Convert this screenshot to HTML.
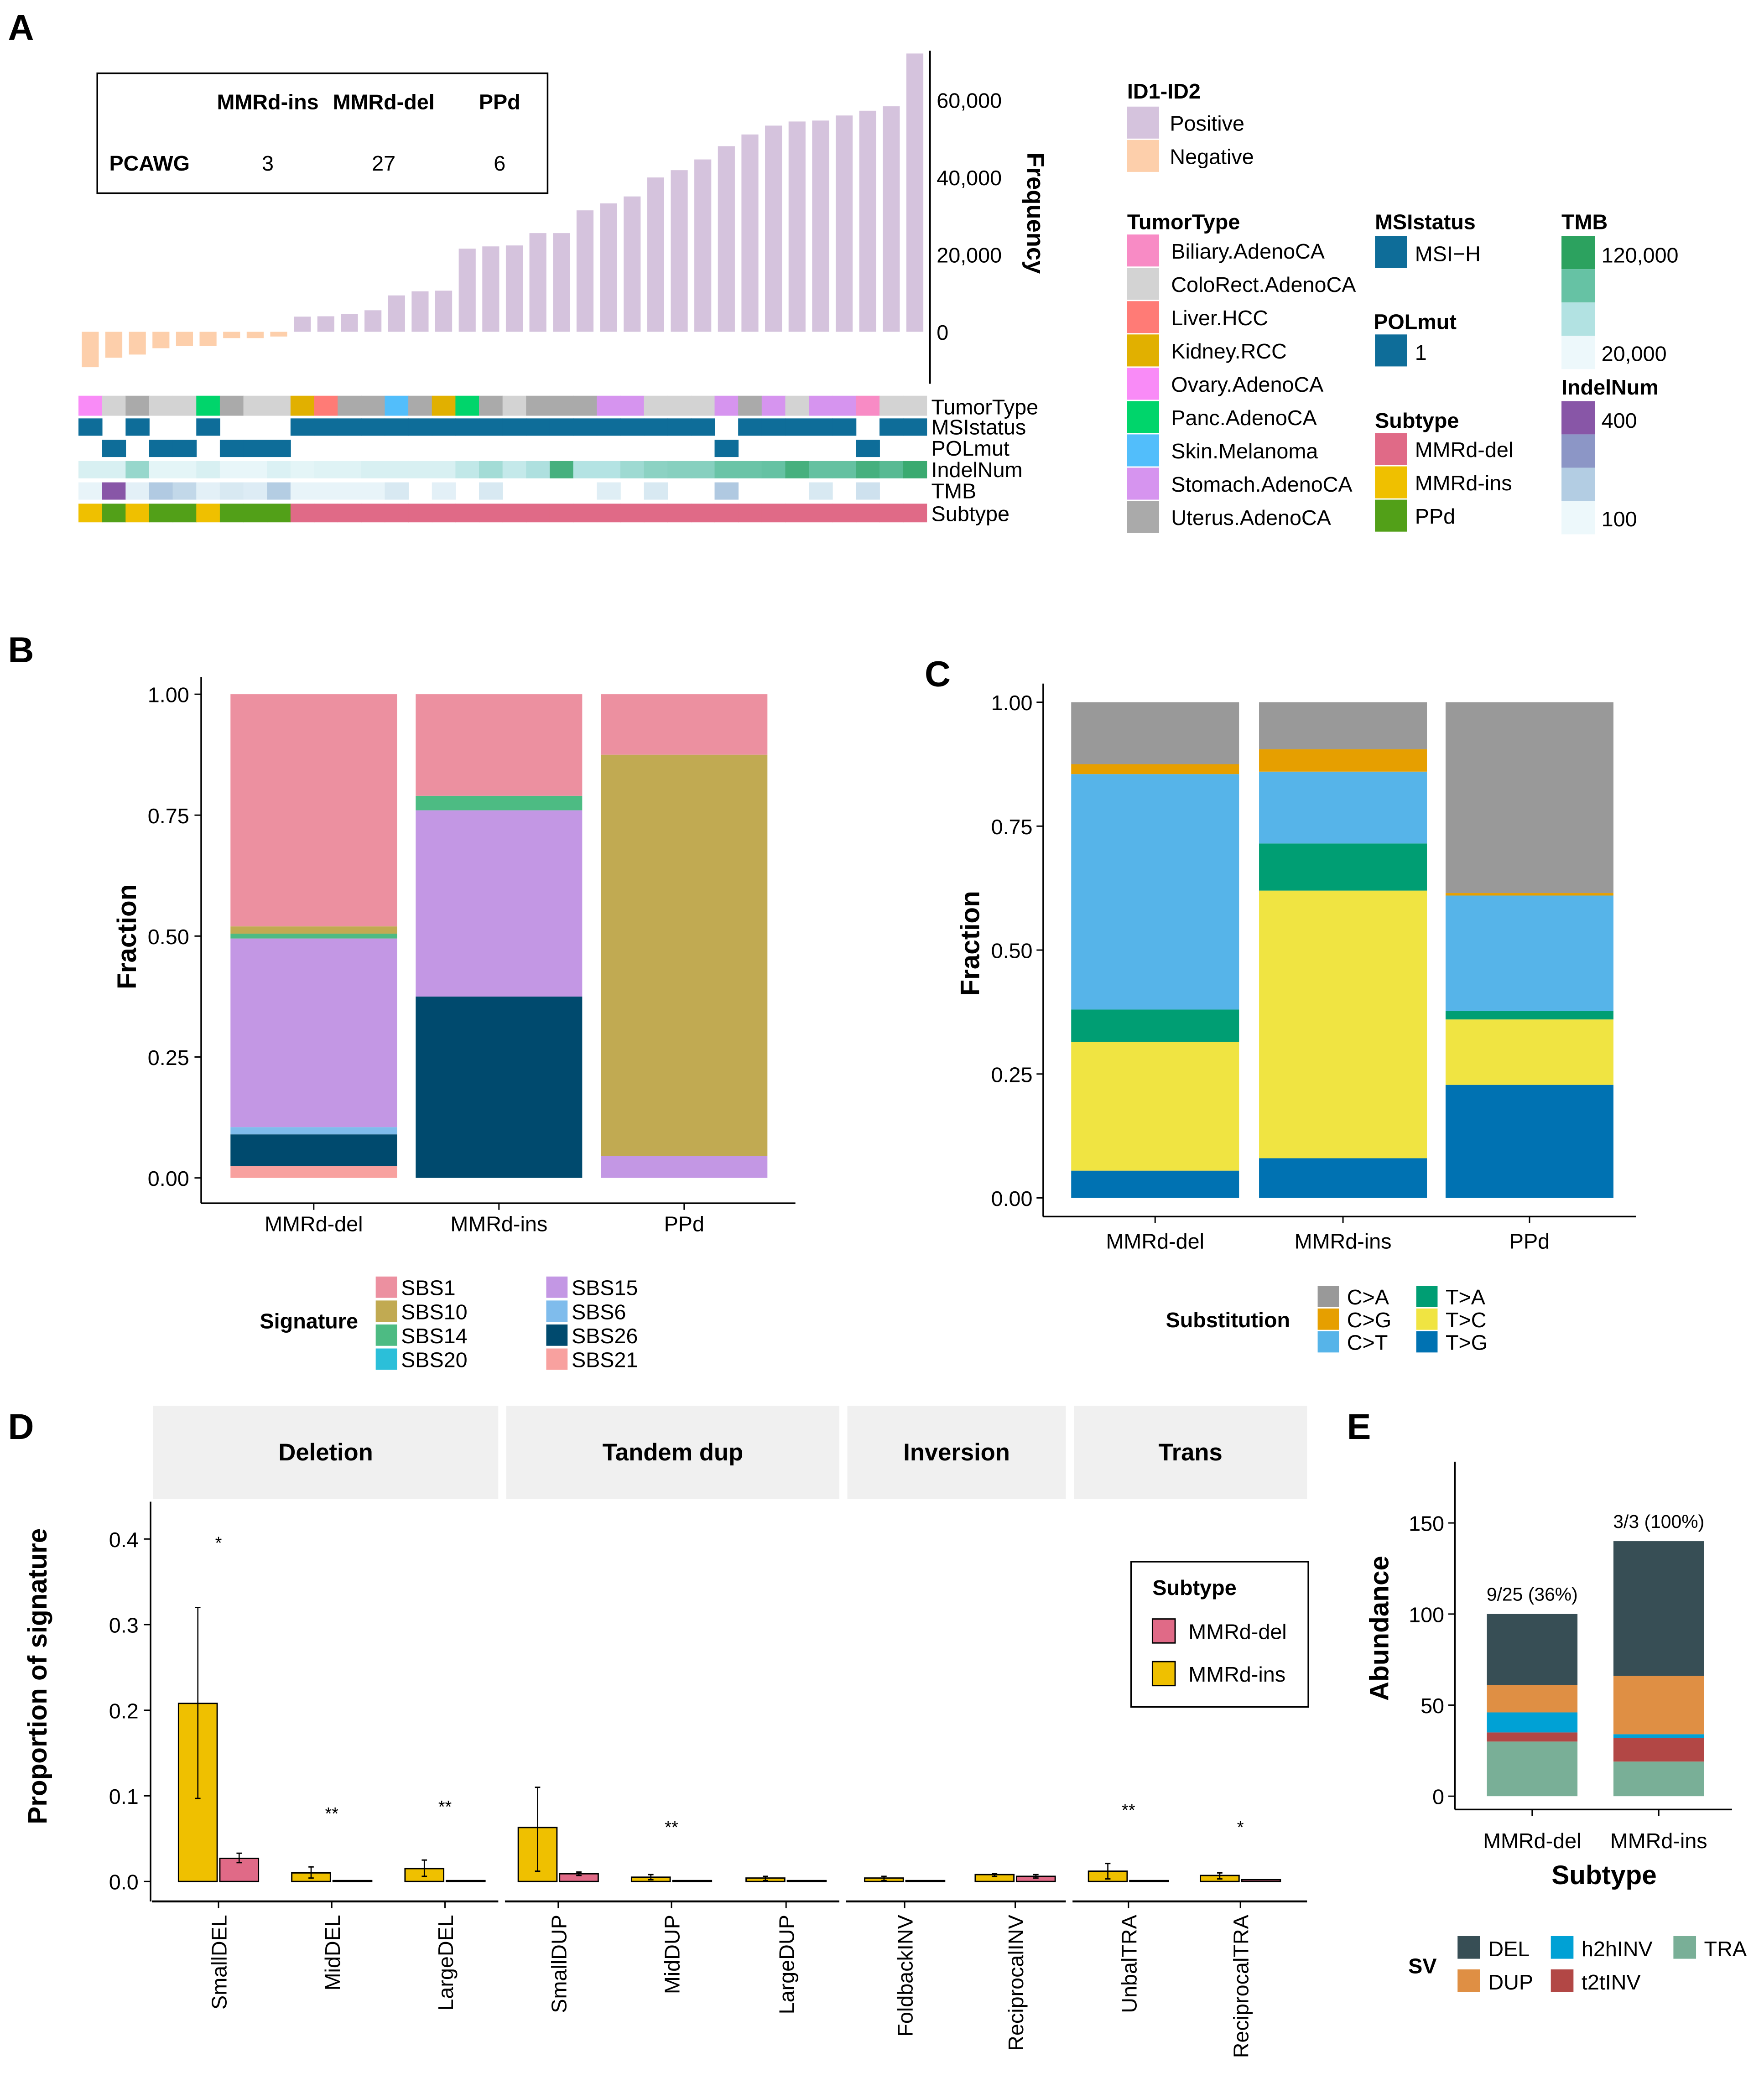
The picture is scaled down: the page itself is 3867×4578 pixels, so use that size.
<!DOCTYPE html>
<html><head><meta charset="utf-8"><style>
html,body{margin:0;padding:0;background:#fff;}
svg{display:block;font-family:"Liberation Sans",Arial,sans-serif;}
</style></head><body>
<svg id="fig" width="3867" height="4578" viewBox="0 0 1324 1567" preserveAspectRatio="none" xmlns="http://www.w3.org/2000/svg">
<rect x="0" y="0" width="1324" height="1567" fill="#fff"/>
<g id="root"></g>
</svg>
<script>
// ---------- Panel A data ----------
const aFreq = [-9166,-6710,-5890,-4255,-3682,-3682,-1637,-1637,-1227,3928,4010,4583,5565,9411,10475,10638,21522,22095,22340,25532,25532,31424,33224,35025,39935,41817,44599,48036,51064,53355,54419,54665,55974,57201,58347,72013];
const aTumor = ["Ovary","ColoRect","Uterus","ColoRect","ColoRect","Panc","Uterus","ColoRect","ColoRect","Kidney","Liver","Uterus","Uterus","Skin","Uterus","Kidney","Panc","Uterus","ColoRect","Uterus","Uterus","Uterus","Stomach","Stomach","ColoRect","ColoRect","ColoRect","Stomach","Uterus","Stomach","ColoRect","Stomach","Stomach","Biliary","ColoRect","ColoRect"];
const aMSI = [1,0,1,0,0,1,0,0,0,1,1,1,1,1,1,1,1,1,1,1,1,1,1,1,1,1,1,0,1,1,1,1,1,0,1,1];
const aPOL = [0,1,0,1,1,0,1,1,1,0,0,0,0,0,0,0,0,0,0,0,0,0,0,0,0,0,0,1,0,0,0,0,0,1,0,0];
const aIndel = [0.12,0.12,0.45,0.05,0.05,0.12,0.03,0.03,0.1,0.05,0.08,0.08,0.12,0.12,0.12,0.12,0.25,0.4,0.23,0.35,0.85,0.32,0.32,0.42,0.5,0.52,0.52,0.65,0.65,0.67,0.85,0.68,0.68,0.85,0.75,0.92];
const aTMB = [0.03,1,0.06,0.35,0.25,0.06,0.12,0.09,0.33,0.03,0.03,0.03,0.03,0.12,-1,0.06,-1,0.12,-1,-1,-1,-1,0.08,-1,0.12,-1,-1,0.36,-1,-1,-1,0.12,-1,0.18,-1,-1];
const aSub = ["ins","PPd","ins","PPd","PPd","ins","PPd","PPd","PPd","del","del","del","del","del","del","del","del","del","del","del","del","del","del","del","del","del","del","del","del","del","del","del","del","del","del","del"];
const aTicks = [0,20000,40000,60000];
const tableCols = ["MMRd-ins","MMRd-del","PPd"];
const tableVals = [3,27,6];
// ---------- Panel B data ----------
const bGroups = ["MMRd-del","MMRd-ins","PPd"];
const bSigs = ["SBS21","SBS26","SBS6","SBS15","SBS20","SBS14","SBS10","SBS1"];
const bDel = [0.025,0.065,0.015,0.39,0,0.01,0.015,0.48];
const bIns = [0,0.375,0,0.385,0,0.03,0,0.21];
const bPPd = [0,0,0,0.045,0,0,0.83,0.125];
const fracTicks = [0,0.25,0.5,0.75,1];
// ---------- Panel C data ----------
const cSubs = ["T>G","T>C","T>A","C>T","C>G","C>A"];
const cDel = [0.055,0.26,0.065,0.475,0.02,0.125];
const cIns = [0.08,0.54,0.095,0.145,0.045,0.095];
const cPPd = [0.228,0.132,0.017,0.233,0.005,0.385];
// ---------- Panel D data ----------
const dCats = ["SmallDEL","MidDEL","LargeDEL","SmallDUP","MidDUP","LargeDUP","FoldbackINV","ReciprocalINV","UnbalTRA","ReciprocalTRA"];
const dIns = [0.208,0.010,0.015,0.063,0.005,0.004,0.004,0.008,0.012,0.007];
const dInsLo = [0.097,0.004,0.006,0.012,0.002,0.001,0.001,0.006,0.003,0.003];
const dInsHi = [0.320,0.017,0.025,0.110,0.008,0.006,0.006,0.009,0.021,0.010];
const dDel = [0.027,0.001,0.001,0.009,0.001,0.001,0.001,0.006,0.001,0.002];
const dDelLo = [0.022,0.001,0.001,0.007,0.001,0.001,0.001,0.004,0.001,0.002];
const dDelHi = [0.033,0.001,0.001,0.011,0.001,0.001,0.001,0.008,0.001,0.002];
const dStars = ["*","**","**","","**","","","","**","*"];
const dStarY = [0.398,0.082,0.090,0,0.066,0,0,0,0.086,0.066];
const dTicks = [0,0.1,0.2,0.3,0.4];
const dFacets = ["Deletion","Tandem dup","Inversion","Trans"];
// ---------- Panel E data ----------
const eGroups = ["MMRd-del","MMRd-ins"];
const eTypes = ["TRA","t2tINV","h2hINV","DUP","DEL"];
const eDel = [30,5,11,15,39];
const eIns = [19,13,2,32,74];
const eAnn = ["9/25 (36%)","3/3 (100%)"];
const eTicks = [0,50,100,150];

const NS="http://www.w3.org/2000/svg";
const root=document.getElementById('root');
function mk(tag,attrs,parent){const e=document.createElementNS(NS,tag);for(const k in attrs)e.setAttribute(k,attrs[k]);(parent||root).appendChild(e);return e;}
function txt(s,x,y,size,opts,parent){opts=opts||{};const e=mk('text',{x:x,y:y,'font-size':size,fill:'#000','text-anchor':opts.anchor||'start','font-weight':opts.bold?'bold':'normal'},parent);if(opts.rot)e.setAttribute('transform','rotate('+opts.rot+' '+x+' '+y+')');e.textContent=s;return e;}
function line(x1,y1,x2,y2,w,parent){return mk('line',{x1:x1,y1:y1,x2:x2,y2:y2,stroke:'#000','stroke-width':w||1},parent);}
function hex(c){return [parseInt(c.substr(1,2),16),parseInt(c.substr(3,2),16),parseInt(c.substr(5,2),16)];}
function ramp(stops,t){t=Math.max(0,Math.min(1,t));const n=stops.length-1;const i=Math.min(n-1,Math.floor(t*n));const f=t*n-i;const a=hex(stops[i]),b=hex(stops[i+1]);return 'rgb('+a.map((v,k)=>Math.round(v+(b[k]-v)*f)).join(',')+')';}

// Panel letters
[["A",6,30],["B",6,497],["C",694,515],["D",6,1080],["E",1011,1080]].forEach(p=>{const t=txt(p[0],p[1],p[2],27,{bold:true});});

// ===== Panel A =====
const gA=mk('g',{});


const ax0=58.9, colW=(695.5-58.9)/aFreq.length;
const ay=v=>249-v*(58/20000);
aFreq.forEach((v,i)=>{const x=ax0+i*colW+colW*0.14;const w=colW*0.72;const y0=ay(0),y1=ay(v);
 const r=mk('rect',{x:x,y:Math.min(y0,y1),width:w,height:Math.abs(y1-y0),fill:v>=0?'#D5C3DD':'#FDCFAB'},gA);
 
 });
line(698,38,698,288,1.3,gA);
aTicks.forEach(t=>{txt(t.toLocaleString('en-US'),703,ay(t)+6,16,{},gA);});
txt("Frequency",771,160,18,{bold:true,anchor:'middle',rot:90},gA);
// table
const tb=mk('g',{},gA);


mk('rect',{x:73,y:55,width:338,height:90,fill:'none',stroke:'#000','stroke-width':1.2},tb);
const tcx=[201,288,375];
tableCols.forEach((c,i)=>txt(c,tcx[i],82,16,{bold:true,anchor:'middle'},tb));
txt("PCAWG",82,128,16,{bold:true},tb);
tableVals.forEach((v,i)=>txt(String(v),tcx[i],128,16,{anchor:'middle'},tb));
// heatmap
const tumorCol={Biliary:'#F88BC5',ColoRect:'#D3D3D3',Liver:'#FF7B76',Kidney:'#E1B000',Ovary:'#F98BF7',Panc:'#00D56B',Skin:'#52BEFB',Stomach:'#D694EF',Uterus:'#AAAAAA'};
const subCol={del:'#E06A87',ins:'#EFC000',PPd:'#52A018'};
const rows=[[297,15],[314,13],[330,13],[346,13],[362,13],[378,14]];
for(let i=0;i<aFreq.length;i++){
 const x=ax0+i*colW, w=colW+0.3;
 const cells=[tumorCol[aTumor[i]], aMSI[i]?'#0E6D99':null, aPOL[i]?'#0E6D99':null, ramp(['#EDF8FB','#B2E2E2','#66C2A4','#2CA25F'],aIndel[i]), aTMB[i]<0?null:ramp(['#EDF8FB','#B3CDE3','#8C96C6','#8856A7'],aTMB[i]), subCol[aSub[i]]];
 cells.forEach((c,r)=>{if(!c)return;const e=mk('rect',{x:x,y:rows[r][0],width:w,height:rows[r][1],fill:c},gA);
  
  });
}
["TumorType","MSIstatus","POLmut","IndelNum","TMB","Subtype"].forEach((s,r)=>txt(s,699,rows[r][0]+rows[r][1]-1,16,{},gA));
// legends A
const lA=mk('g',{});


txt("ID1-ID2",846,74,16,{bold:true},lA);
mk('rect',{x:846,y:80,width:24,height:24,fill:'#D5C3DD'},lA);txt("Positive",878,98,16,{},lA);
mk('rect',{x:846,y:105,width:24,height:24,fill:'#FDCFAB'},lA);txt("Negative",878,123,16,{},lA);
txt("TumorType",846,172,16,{bold:true},lA);
["Biliary","ColoRect","Liver","Kidney","Ovary","Panc","Skin","Stomach","Uterus"].forEach((k,i)=>{
 const names={Biliary:'Biliary.AdenoCA',ColoRect:'ColoRect.AdenoCA',Liver:'Liver.HCC',Kidney:'Kidney.RCC',Ovary:'Ovary.AdenoCA',Panc:'Panc.AdenoCA',Skin:'Skin.Melanoma',Stomach:'Stomach.AdenoCA',Uterus:'Uterus.AdenoCA'};
 mk('rect',{x:846,y:176+i*25,width:24,height:24,fill:tumorCol[k]},lA);txt(names[k],879,194+i*25,16,{},lA);});
txt("MSIstatus",1032,172,16,{bold:true},lA);
mk('rect',{x:1032,y:177,width:24,height:24,fill:'#0E6D99'},lA);txt("MSI−H",1062,196,16,{},lA);
txt("POLmut",1031,247,16,{bold:true},lA);
mk('rect',{x:1032,y:251,width:24,height:24,fill:'#0E6D99'},lA);txt("1",1062,270,16,{},lA);
txt("Subtype",1032,321,16,{bold:true},lA);
[["del","MMRd-del"],["ins","MMRd-ins"],["PPd","PPd"]].forEach((s,i)=>{mk('rect',{x:1032,y:325+i*25,width:24,height:24,fill:subCol[s[0]]},lA);txt(s[1],1062,343+i*25,16,{},lA);});
txt("TMB",1172,172,16,{bold:true},lA);
for(let i=0;i<4;i++)mk('rect',{x:1172,y:177+i*25,width:25,height:25,fill:ramp(['#2CA25F','#66C2A4','#B2E2E2','#EDF8FB'],i/3)},lA);
txt("120,000",1202,197,16,{},lA);txt("20,000",1202,271,16,{},lA);
txt("IndelNum",1172,296,16,{bold:true},lA);
for(let i=0;i<4;i++)mk('rect',{x:1172,y:301+i*25,width:25,height:25,fill:ramp(['#8856A7','#8C96C6','#B3CDE3','#EDF8FB'],i/3)},lA);
txt("400",1202,321,16,{},lA);txt("100",1202,395,16,{},lA);

// ===== Stacked bars helper =====
function stacked(g,groups,series,names,colors,xs,bw,y0,y1,nameBase){
 const sy=v=>y0-(y0-y1)*v;
 series.forEach((vals,gi)=>{let acc=0;vals.forEach((v,k)=>{if(v<=0)return;const r=mk('rect',{x:xs[gi],y:sy(acc+v),width:bw,height:sy(acc)-sy(acc+v),fill:colors[names[k]]},g);
  
  acc+=v;});});
 return sy;
}
// ===== Panel B =====
const gB=mk('g',{});


const sigCol={SBS1:'#EC90A0',SBS10:'#C1AA52',SBS14:'#4DBB83',SBS20:'#2BBFD9',SBS15:'#C397E4',SBS6:'#7FBCEC',SBS26:'#004A6E',SBS21:'#F8A19F'};
const syB=stacked(gB,bGroups,[bDel,bIns,bPPd],bSigs,sigCol,[173,312,451],125,884,521,'signature');
line(151,508,151,903,1.2,gB);line(151,903,597,903,1.2,gB);
fracTicks.forEach(t=>{line(146,syB(t),151,syB(t),1,gB);txt(t.toFixed(2),142,syB(t)+6,16,{anchor:'end'},gB);});
bGroups.forEach((s,i)=>{const cx=[173,312,451][i]+62.5;line(cx,903,cx,908,1,gB);txt(s,cx,924,16,{anchor:'middle'},gB);});
txt("Fraction",102,703,20,{bold:true,anchor:'middle',rot:-90},gB);
txt("Signature",195,997,16,{bold:true},gB);
[["SBS1","SBS10","SBS14","SBS20"],["SBS15","SBS6","SBS26","SBS21"]].forEach((col,c)=>col.forEach((s,i)=>{mk('rect',{x:282+c*128,y:958+i*18,width:16,height:16,fill:sigCol[s]},gB);txt(s,301+c*128,972+i*18,16,{},gB);}));

// ===== Panel C =====
const gC=mk('g',{});


const subsCol={"C>A":'#999999',"C>G":'#E69F00',"C>T":'#56B4E9',"T>A":'#009E73',"T>C":'#F0E442',"T>G":'#0072B2'};
const syC=stacked(gC,bGroups,[cDel,cIns,cPPd],cSubs,subsCol,[804,945,1085],126,899,527,'substitution');
line(783,513,783,913,1.2,gC);line(783,913,1228,913,1.2,gC);
fracTicks.forEach(t=>{line(778,syC(t),783,syC(t),1,gC);txt(t.toFixed(2),775,syC(t)+6,16,{anchor:'end'},gC);});
bGroups.forEach((s,i)=>{const cx=[804,945,1085][i]+63;line(cx,913,cx,918,1,gC);txt(s,cx,937,16,{anchor:'middle'},gC);});
txt("Fraction",735,708,20,{bold:true,anchor:'middle',rot:-90},gC);
txt("Substitution",875,996,16,{bold:true},gC);
[["C>A","C>G","C>T"],["T>A","T>C","T>G"]].forEach((col,c)=>col.forEach((s,i)=>{mk('rect',{x:989+c*74,y:965+i*17,width:16,height:16,fill:subsCol[s]},gC);txt(s,1011+c*74,979+i*17,16,{},gC);}));

// ===== Panel D =====
const gD=mk('g',{});


const dy=v=>1412-v*642.5;
const facetX=[[115,374],[380,630],[636,800],[806,981]];
dFacets.forEach((f,i)=>{const s=mk('rect',{x:facetX[i][0],y:1055,width:facetX[i][1]-facetX[i][0],height:70,fill:'#F0F0F0'},gD);
 
 
 txt(f,(facetX[i][0]+facetX[i][1])/2,1096,18,{bold:true,anchor:'middle'},gD);
 line(facetX[i][0]-1,1427,facetX[i][1],1427,1.5,gD);});
line(113,1127,113,1427,1.2,gD);
dTicks.forEach(t=>{line(108,dy(t),113,dy(t),1,gD);txt(String(t.toFixed(1)),104,dy(t)+6,16,{anchor:'end'},gD);});
txt("Proportion of signature",35,1258,20,{bold:true,anchor:'middle',rot:-90},gD);
const dCx=[164,249,334,419,504,590,679,762,847,931];
dCats.forEach((c,i)=>{const cx=dCx[i];
 const b1=mk('rect',{x:cx-30,y:dy(dIns[i]),width:29,height:dy(0)-dy(dIns[i]),fill:'#EFC000',stroke:'#000','stroke-width':1},gD);
 
 
 const b2=mk('rect',{x:cx+1,y:dy(dDel[i]),width:29,height:Math.max(0.6,dy(0)-dy(dDel[i])),fill:'#E06A87',stroke:'#000','stroke-width':1},gD);
 
 
 [[cx-15.5,dInsLo[i],dInsHi[i]],[cx+15.5,dDelLo[i],dDelHi[i]]].forEach(e=>{if(e[2]-e[1]<0.0015)return;line(e[0],dy(e[1]),e[0],dy(e[2]),0.9,gD);line(e[0]-2,dy(e[1]),e[0]+2,dy(e[1]),1,gD);line(e[0]-2,dy(e[2]),e[0]+2,dy(e[2]),1,gD);});
 if(dStars[i])txt(dStars[i],cx,dy(dStarY[i])+6,13,{anchor:'middle'},gD);
 line(cx,1427,cx,1432,1,gD);
 txt(c,cx+6,1437,16,{anchor:'end',rot:-90},gD);});
const lgD=mk('g',{},gD);


mk('rect',{x:849,y:1172,width:133,height:109,fill:'#fff',stroke:'#000','stroke-width':1.2},lgD);
txt("Subtype",865,1197,16,{bold:true},lgD);
mk('rect',{x:865,y:1215,width:17,height:18,fill:'#E06A87',stroke:'#000'},lgD);txt("MMRd-del",892,1230,16,{},lgD);
mk('rect',{x:865,y:1247,width:17,height:18,fill:'#EFC000',stroke:'#000'},lgD);txt("MMRd-ins",892,1262,16,{},lgD);

// ===== Panel E =====
const gE=mk('g',{});


const svCol={DEL:'#374E55',DUP:'#DF8F44',h2hINV:'#00A1D5',t2tINV:'#B24745',TRA:'#79AF97'};
const ey=v=>1348-v*1.367;
const eX=[1116,1211];
[eDel,eIns].forEach((vals,gi)=>{let acc=0;vals.forEach((v,k)=>{const r=mk('rect',{x:eX[gi],y:ey(acc+v),width:68,height:ey(acc)-ey(acc+v),fill:svCol[eTypes[k]]},gE);
 
 acc+=v;});
 txt(eAnn[gi],eX[gi]+34,ey(acc)-10,14,{anchor:'middle'},gE);});
line(1092,1097,1092,1358,1.2,gE);line(1092,1358,1300,1358,1.2,gE);
eTicks.forEach(t=>{line(1087,ey(t),1092,ey(t),1,gE);txt(String(t),1084,ey(t)+6,16,{anchor:'end'},gE);});
eGroups.forEach((s,i)=>{const cx=eX[i]+34;line(cx,1358,cx,1363,1,gE);txt(s,cx,1387,16,{anchor:'middle'},gE);});
txt("Subtype",1204,1414,20,{bold:true,anchor:'middle'},gE);
txt("Abundance",1042,1222,20,{bold:true,anchor:'middle',rot:-90},gE);
txt("SV",1057,1481,16,{bold:true},gE);
[["DEL",1094,1453],["h2hINV",1164,1453],["TRA",1256,1453],["DUP",1094,1478],["t2tINV",1164,1478]].forEach(s=>{mk('rect',{x:s[1],y:s[2],width:17,height:17,fill:svCol[s[0]]},gE);txt(s[0],s[1]+23,s[2]+15,16,{},gE);});
</script>
</body></html>
